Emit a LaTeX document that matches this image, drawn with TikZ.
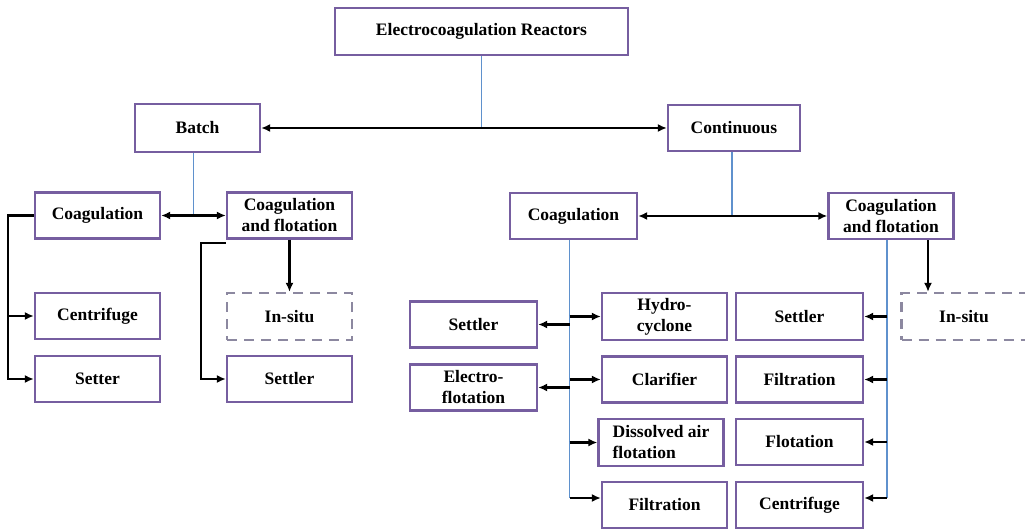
\documentclass[tikz,border=0pt]{standalone}
\usepackage{fontspec}
\setmainfont{Liberation Serif}
\usetikzlibrary{arrows.meta}

\begin{document}
\begin{tikzpicture}[x=1pt,y=-1pt,>={Latex[length=9pt,width=8pt]},
  font=\fontsize{17.5}{21}\selectfont\bfseries,
  box/.style={draw=frame,line width=2.3pt,minimum width=125pt,
    minimum height=46pt,align=center,inner sep=2pt},
  insitu/.style={box,draw=dashframe,dash pattern=on 10pt off 7pt},
  link/.style={line width=2.2pt},
  bus/.style={draw=busline,line width=1.5pt}]
\definecolor{frame}{RGB}{118,94,160}
\definecolor{dashframe}{RGB}{140,136,160}
\definecolor{busline}{RGB}{95,145,205}

\useasboundingbox (0,0) rectangle (1025,529);

% Top level and the two reactor types.
\node[box,minimum width=293pt,minimum height=47pt] (top) at (481.5,31.5)
  {Electrocoagulation Reactors};
\node[box,minimum height=48pt] (batch) at (197.5,128) {Batch};
\node[box,minimum width=132pt] (cont) at (734,128) {Continuous};

% Batch branch.
\node[box] (bcoag) at (97.5,215.5) {Coagulation};
\node[box] (bflot) at (289.5,215.5) {Coagulation\\and flotation};
\node[box] (bcent) at (97.5,316) {Centrifuge};
\node[box] (bsetter) at (97.5,379) {Setter};
\node[insitu,minimum height=47pt] (binsitu) at (289.5,316.5) {In-situ};
\node[box] (bsettler) at (289.5,379) {Settler};

% Continuous branch.
\node[box,minimum width=127pt] (ccoag) at (573.5,216) {Coagulation};
\node[box] (cflot) at (891,216) {Coagulation\\and flotation};
\node[box,minimum width=127pt] (csettler) at (473.5,324.5) {Settler};
\node[box,minimum width=127pt] (celectro) at (473.5,387.5) {Electro-\\flotation};
\node[box,minimum height=47pt] (hydro) at (664.5,316.5) {Hydro-\\cyclone};
\node[box] (clar) at (664.5,379.5) {Clarifier};
\node[box,minimum height=47pt,align=left] (dissolved) at (661,442.5)
  {Dissolved air\\flotation};
\node[box] (cfilt) at (664.5,505) {Filtration};
\node[box,minimum width=127pt,minimum height=47pt] (rsettler) at (799.5,316.5) {Settler};
\node[box,minimum width=127pt] (rfilt) at (799.5,379.5) {Filtration};
\node[box,minimum width=127pt] (rflot) at (799.5,442) {Flotation};
\node[box,minimum width=127pt] (rcent) at (799.5,505) {Centrifuge};
\node[insitu,minimum height=47pt] (cinsitu) at (964,316.5) {In-situ};

% Thin blue joins.
\draw[bus] (top.south) -- (top.south |- batch.east);
\draw[bus] ([xshift=-4pt]batch.south) -- ([xshift=-4pt]batch.south |- bcoag.east);
\draw[bus] ([xshift=-2pt]cont.south) -- ([xshift=-2pt]cont.south |- ccoag.east);
\draw[bus] ([xshift=-4pt]ccoag.south) -- ([xshift=-4pt,yshift=7pt]ccoag.south |- cfilt.west);
\draw[bus] ([xshift=-4pt]cflot.south) -- ([xshift=-4pt,yshift=7pt]cflot.south |- rcent.east);

% Black arrows.
\draw[link,<->] (batch) -- (cont);
\draw[link,<->] (bcoag) -- (bflot);
\draw[link,<->] (ccoag) -- (cflot);
\draw[link,->] (bcoag.west) -- ++(-26,0) |- (bcent.west);
\draw[link,->] (bcoag.west) -- ++(-26,0) |- (bsetter.west);
\draw[link,->] ([yshift=-3pt]bflot.south west) -- ++(-25,0) |- (bsettler.west);
\draw[link,->] (bflot.south) -- (binsitu.north);
\draw[link,->] ([xshift=37pt]cflot.south) -- ([xshift=37pt]cflot.south |- cinsitu.north);

\foreach \t in {csettler,celectro}
  \draw[link,->] ([xshift=-4pt]ccoag.south |- \t.east) -- (\t.east);
\foreach \t in {hydro,clar,dissolved}
  \draw[link,->] ([xshift=-4pt]ccoag.south |- \t.west) -- (\t.west);
\draw[link,->] ([xshift=-4pt,yshift=7pt]ccoag.south |- cfilt.west) -- ([yshift=7pt]cfilt.west);
\foreach \t in {rsettler,rfilt,rflot}
  \draw[link,->] ([xshift=-4pt]cflot.south |- \t.east) -- (\t.east);
\draw[link,->] ([xshift=-4pt,yshift=7pt]cflot.south |- rcent.east) -- ([yshift=7pt]rcent.east);
\end{tikzpicture}
\end{document}
